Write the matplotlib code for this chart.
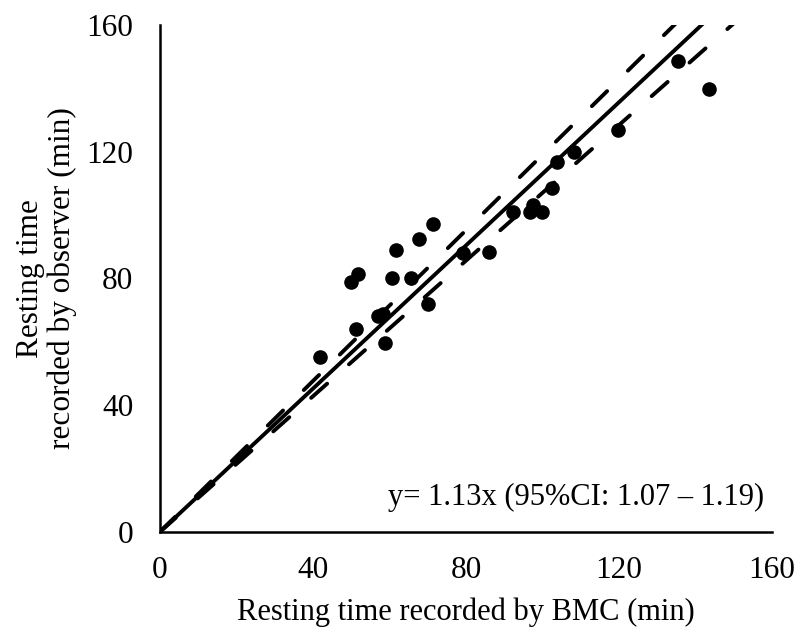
import numpy as np
import matplotlib
matplotlib.use("Agg")
import matplotlib.pyplot as plt

# resting time pairs
bmc_min = [41.8, 50.1, 51.8, 61.7, 67.7, 71.4, 60.7, 65.6, 70.1, 56.9, 58.3,
           51.2, 58.8, 79.2, 86.0, 92.3, 96.7, 97.5, 99.8, 102.5, 103.8,
           108.2, 119.8, 135.4, 143.5]
observer_min = [55.2, 79.0, 81.4, 89.0, 92.4, 97.2, 80.1, 80.1, 71.9, 68.1, 68.8,
                64.0, 59.6, 88.0, 88.3, 101.0, 101.0, 103.2, 101.0, 108.5, 116.7,
                119.9, 126.8, 148.6, 139.7]

slope = 1.13
ci_low = 1.07
ci_high = 1.19

plt.rcParams['font.family'] = ['Liberation Serif', 'DejaVu Serif']

fig = plt.figure(figsize=(8.11, 6.39), dpi=100)
ax = fig.add_axes([0.197, 0.1675, 0.755, 0.7935])

ax.scatter(bmc_min, observer_min, s=90, color='black', zorder=3)

xs = np.array([0, 160])
ax.plot(xs, slope * xs, color='black', lw=2.8, zorder=2)
for k in (ci_high, ci_low):
    ax.plot(xs, k * xs, color='black', lw=2.8, dashes=(5.5, 7.5),
            dash_capstyle='round', zorder=2)

ax.set_xlim(0, 160)
ax.set_ylim(0, 160)
ax.set_xticks([0, 40, 80, 120, 160])
ax.set_yticks([0, 40, 80, 120, 160])
ax.tick_params(length=0, labelsize=22.5)
ax.tick_params(axis='x', pad=17)
ax.tick_params(axis='y', pad=19)

for side in ['top', 'right']:
    ax.spines[side].set_visible(False)
for side in ['left', 'bottom']:
    ax.spines[side].set_linewidth(1.8)

ax.set_xlabel('Resting time recorded by BMC (min)', fontsize=22, labelpad=9)
ax.set_ylabel('Resting time\nrecorded by observer (min)', fontsize=22.5,
              linespacing=1.1)
ax.yaxis.set_label_coords(-0.135, 0.5)

ax.text(158, 11, 'y= 1.13x (95%CI: 1.07 – 1.19)', fontsize=22,
        ha='right', va='center')

fig.savefig('out.png', dpi=100)
